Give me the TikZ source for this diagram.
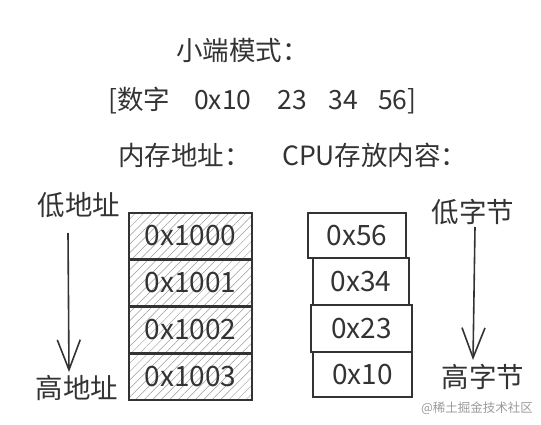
\documentclass[tikz,border=0pt]{standalone}
\usepackage{fontspec}
\setmainfont{Noto Sans CJK SC}
\usetikzlibrary{arrows.meta,patterns.meta}
\definecolor{ink}{HTML}{333333}
\definecolor{hatch}{HTML}{9A9A9A}
\tikzset{
    txt/.style={text=ink, inner sep=0pt, font=\fontsize{26.5}{30}\selectfont},
    cell/.style={draw=ink, line width=2pt, inner sep=0pt, text=ink, font=\fontsize{28}{30}\selectfont},
    memcell/.style={cell, minimum width=123pt, minimum height=46.5pt,
        pattern={Lines[angle=45,distance=6pt,line width=0.5pt]}, pattern color=hatch},
    downarrow/.style={draw=ink, line width=1.6pt, -{Straight Barb[length=30pt,width=23pt,line width=1.6pt]}}
}

\begin{document}
\begin{tikzpicture}[x=1pt,y=-1pt]
        \useasboundingbox (0,0) rectangle (541,425);
        % titles
        \node[txt, anchor=west] (mode) at (176,50) {小端模式：};
        \node[txt, anchor=west] (num) at (108,101) {[数字\hspace{24pt}0x10\hspace{26pt}23\hspace{22pt}34\hspace{20pt}56]};
        \node[txt, anchor=west] (addrhead) at (118,155) {内存地址：};
        \node[txt, anchor=west] (cpuhead) at (282,155) {CPU存放内容：};
        % memory addresses
        \node[memcell] (mem1) at (190.5,236) {0x1000};
        \node[memcell] (mem2) at (190.5,283) {0x1001};
        \node[memcell] (mem3) at (190.5,330) {0x1002};
        \node[memcell] (mem4) at (190.5,377) {0x1003};
        % stored bytes
        \node[cell, minimum width=98pt, minimum height=45pt] (val1) at (357,235.5) {0x56};
        \node[cell, minimum width=96pt, minimum height=47pt] (val2) at (361,281.5) {0x34};
        \node[cell, minimum width=101pt, minimum height=47pt] (val3) at (361.5,328.5) {0x23};
        \node[cell, minimum width=99pt, minimum height=45pt] (val4) at (362.5,374.5) {0x10};
        % left arrow
        \node[txt, font=\fontsize{27.5}{30}\selectfont] (lowaddr) at (79,205) {低地址};
        \node[txt, font=\fontsize{27.5}{30}\selectfont] (highaddr) at (77,388) {高地址};
        \coordinate (la) at (68,233);
        \coordinate (lb) at (69,372);
        \draw[downarrow] (la) -- (lb);
        % right arrow
        \node[txt, font=\fontsize{27.5}{30}\selectfont] (lowbyte) at (473,212) {低字节};
        \node[txt, font=\fontsize{27.5}{30}\selectfont] (highbyte) at (483,377) {高字节};
        \coordinate (ra) at (475,227);
        \coordinate (rb) at (473,360);
        \draw[downarrow] (ra) -- (rb);
        \node[txt, text=hatch, font=\fontsize{12.5}{14}\selectfont] (mark) at (477,408) {@稀土掘金技术社区};
    \end{tikzpicture}
\end{document}
